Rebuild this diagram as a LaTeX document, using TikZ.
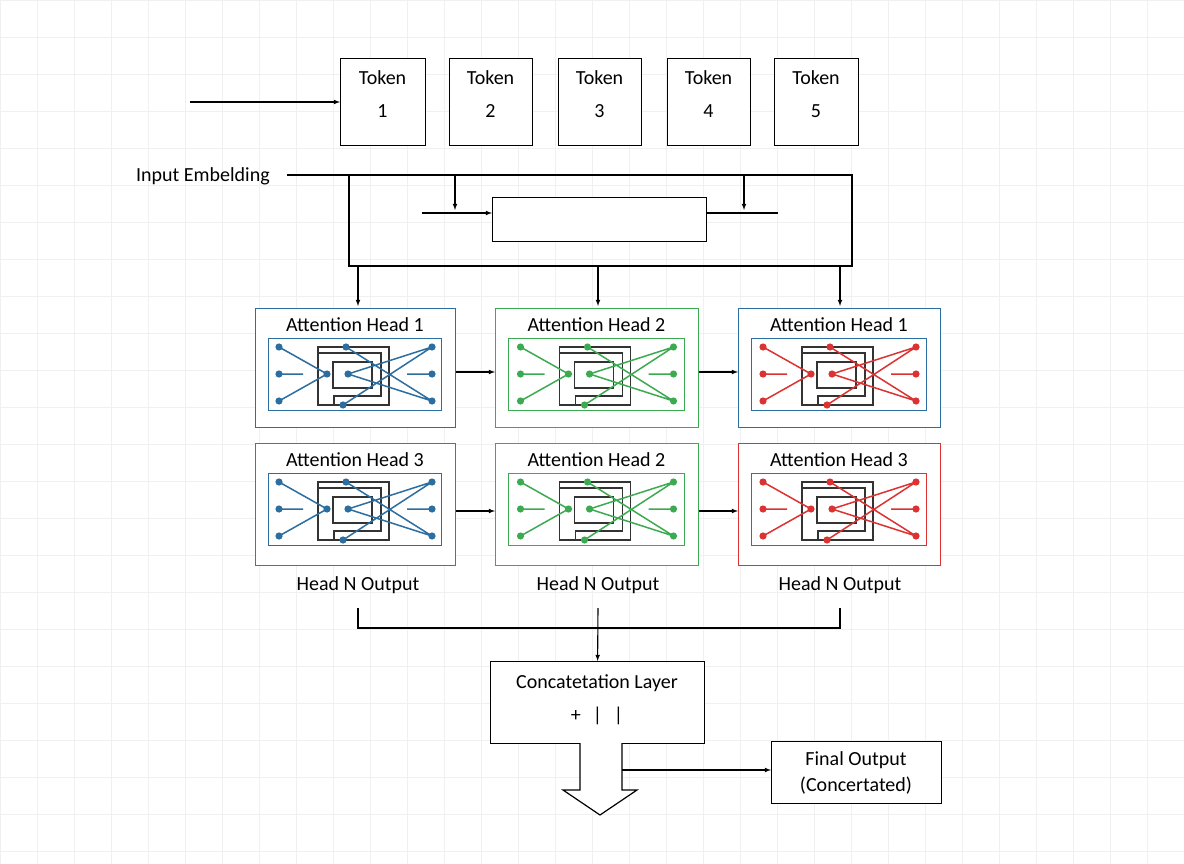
\documentclass[tikz,border=0pt]{standalone}
\usepackage{fontspec}
\setmainfont{Carlito}
\begin{document}
\definecolor{hb}{RGB}{45,110,160}
\definecolor{hg}{RGB}{60,170,80}
\definecolor{hr}{RGB}{220,50,50}
\newcommand\hglyph[3]{%
\pgfmathsetmacro\gx{#1}\pgfmathsetmacro\gy{#2}%
\begin{scope}[shift={(\gx,\gy)}]
\draw[black!80,line width=1.1pt] (-37,-27) rectangle (34,31);
\draw[black!80,line width=1.1pt] (-37,-21)--(26,-21)--(26,22)--(-21,22)--(-21,31);
\draw[black!80,line width=1.1pt] (-22,-12) rectangle (17,14);
\draw[#3,line width=1.5pt] (-76,-27)--(-28,0) (-76,27)--(-28,0) (-76,0)--(-52,0)
 (-9,-27)--(77,27) (-7,0)--(77,-27) (-7,0)--(77,27) (-12,31)--(77,-27) (77,0)--(52,0);
\foreach \p in {(-76,-27),(-76,0),(-76,27),(-28,0),(-7,0),(-9,-27),(-12,31),(77,-27),(77,0),(77,27)}
 \fill[#3] \p circle (3.6);
\end{scope}}
\begin{tikzpicture}[x=1pt,y=-1pt,
 txt/.style={font=\fontsize{20}{22}\selectfont},
 box/.style={draw,line width=1.2pt,fill=white},
 arr/.style={-latex,line width=1.1pt},
 ln/.style={line width=1.1pt}]
\useasboundingbox (0,0) rectangle (1184,864);
\fill[white] (0,0) rectangle (1184,864);
\foreach \k in {0,37,...,1184} \draw[black!6,line width=0.8pt] (\k,0)--(\k,864);
\foreach \k in {0,37,...,864} \draw[black!6,line width=0.8pt] (0,\k)--(1184,\k);
% tokens
\foreach \i/\a/\b in {1/340/425,2/449/532,3/558/641,4/667/750,5/774/858}{
 \node[box,minimum width={\b-\a},minimum height=87,anchor=north west,inner sep=0] (t\i) at (\a,58) {};
 \node[txt] (tt\i) at ({(\a+\b)/2},78) {Token};
 \node[txt] (tn\i) at ({(\a+\b)/2},111) {\i};}
\coordinate (in) at (190,102);
\draw[arr] (in) -- (t1.west|-in);
% embedding
\node[txt] (emb) at (203,176) {Input Embelding};
\coordinate (c1) at (287,175); \coordinate (c2) at (852,175);
\coordinate (c3) at (349,266); \coordinate (c4) at (852,266);
\draw[ln] (c1)--(c2)--(c4)--(c3)--(349,175);
\node[box,minimum width=214,minimum height=44,anchor=north west,inner sep=0] (er) at (492,197) {};
\draw[arr] (455,175)--(455,210);
\draw[arr] (744,175)--(744,210);
\draw[arr] (422,213)--(er.west|-0,213);
\draw[ln] (er.east|-0,213)--(778,213);
% heads
\newcommand\head[9]{% name x1 x2 y1 y2 outer inner title glyph
 \node[draw=#6,line width=1.3pt,fill=white,minimum width={#3-#2},minimum height={#5-#4},anchor=north west,inner sep=0] (#1) at (#2,#4) {};
 \node[draw=#7,line width=1.3pt,minimum width={#3-#2-27},minimum height=72,anchor=north west,inner sep=0] (#1i) at (#2+13,#4+30) {};
 \node[txt] at ({(#2+#3)/2},#4+17) {#8};
 \hglyph{(#2+#3)/2}{#4+66}{#9}}
\head{h11}{255}{455}{308}{427}{hb}{hb}{Attention Head 1}{hb}
\head{h12}{495}{698}{308}{427}{hg}{hg}{Attention Head 2}{hg}
\head{h13}{738}{940}{308}{427}{hb}{hb}{Attention Head 1}{hr}
\head{h21}{255}{455}{443}{565}{hb!60!hg}{hb}{Attention Head 3}{hb}
\head{h22}{495}{698}{443}{565}{hg}{hg}{Attention Head 2}{hg}
\head{h23}{738}{940}{443}{565}{hr}{hr}{Attention Head 3}{hr}
\draw[arr] (358,266)--(358,306);
\draw[arr] (598,266)--(598,306);
\draw[arr] (840,266)--(840,306);
\draw[arr] (h11.east|-0,372)--(h12.west|-0,372);
\draw[arr] (h12.east|-0,372)--(h13.west|-0,372);
\draw[arr] (h21.east|-0,511)--(h22.west|-0,511);
\draw[arr] (h22.east|-0,511)--(h23.west|-0,511);
\node[txt] (o1) at (358,585) {Head N Output};
\node[txt] (o2) at (598,585) {Head N Output};
\node[txt] (o3) at (840,585) {Head N Output};
\draw[ln] (358,608)--(358,628)--(840,628)--(840,608);
\node[box,minimum width=214,minimum height=82,anchor=north west,inner sep=0] (cat) at (490,661) {};
\draw[arr] (598,608)--(cat.north);
\node[txt] at (597,683) {Concatetation Layer};
\node[txt] at (597,716) {+\hspace{0.6em}|\hspace{0.6em}|};
\draw[line width=1.2pt,fill=white] (580,743)--(580,790)--(563,790)--(600,815)--(637,790)--(622,790)--(622,743);
\node[box,minimum width=170,minimum height=62,anchor=north west,inner sep=0] (fin) at (771,741) {};
\node[txt] at (856,760) {Final Output};
\node[txt] at (856,786) {(Concertated)};
\draw[arr] (622,770)--(fin.west|-0,770);
\end{tikzpicture}
\end{document}
